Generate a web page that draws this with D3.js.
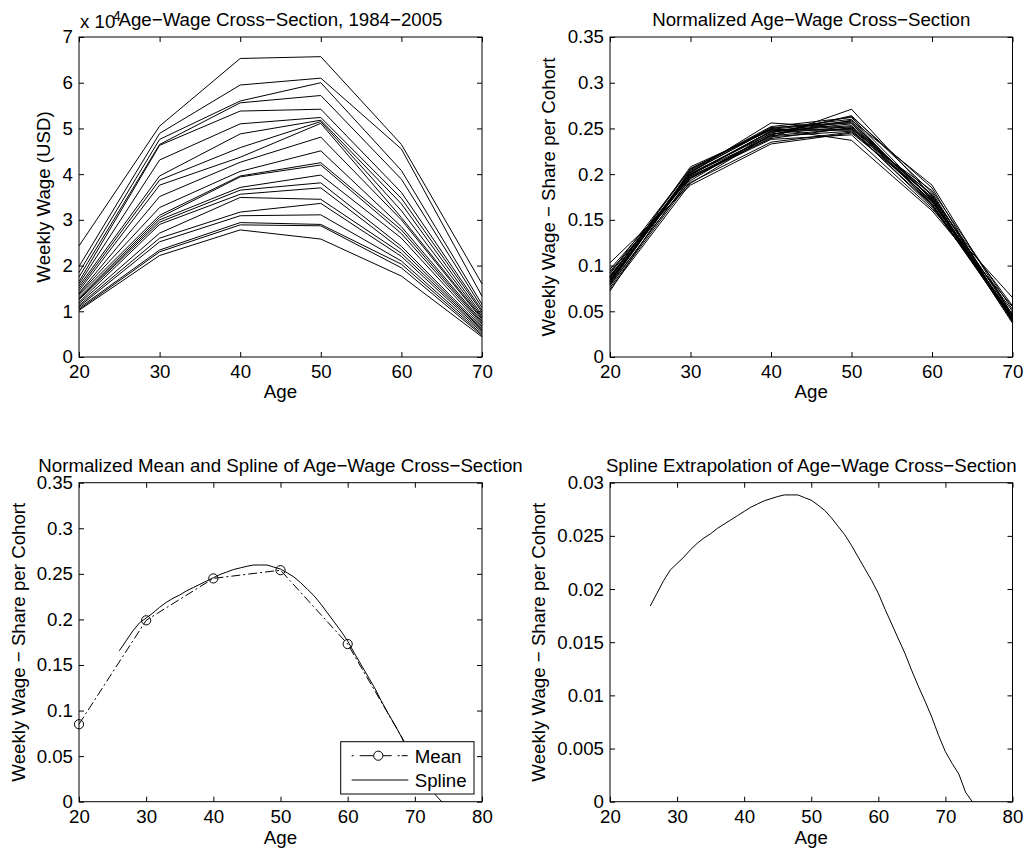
<!DOCTYPE html>
<html>
<head>
<meta charset="utf-8">
<script src="https://cdn.jsdelivr.net/npm/d3@7"></script>
<style>
  body { margin: 0; background: #fff; }
  svg text { font-family: "Liberation Sans", Arial, Helvetica, sans-serif; fill: #000; }
</style>
</head>
<body>
<svg id="fig" width="1029" height="861"></svg>
<script>
// ---- data ---------------------------------------------------------------
const ages = [20, 30, 40, 50, 60, 70];
const years = [1984, 1985, 1986, 1987, 1988, 1989, 1990, 1991, 1992, 1993, 1994,
               1995, 1996, 1997, 1998, 1999, 2000, 2001, 2002, 2003, 2004, 2005];

// weekly wage (USD) per age bracket, one row per year
const weeklyWage = [
  [10200, 22200, 27800, 25800, 17700, 4400],
  [10400, 23000, 28900, 28700, 19500, 4700],
  [10700, 23400, 29400, 29000, 20300, 5000],
  [11000, 25200, 30900, 31100, 21000, 5400],
  [11300, 26000, 31700, 33600, 22000, 5700],
  [11700, 27100, 34900, 34500, 22700, 6000],
  [12000, 29000, 35600, 37000, 23500, 6200],
  [12500, 29500, 36500, 38100, 24200, 6500],
  [12700, 30000, 37100, 39800, 26000, 6800],
  [13000, 30500, 39400, 42000, 27000, 7200],
  [13500, 31000, 39600, 42500, 27800, 7500],
  [13800, 32700, 40600, 45100, 28500, 7800],
  [14000, 35100, 42600, 48100, 30000, 8200],
  [14500, 37600, 43700, 51100, 30500, 8500],
  [15000, 38700, 45800, 51500, 32000, 8800],
  [15500, 39600, 48800, 51800, 33500, 9200],
  [16000, 43100, 51000, 52400, 34700, 9800],
  [16500, 46300, 53800, 54200, 36000, 10200],
  [17500, 46500, 55600, 57200, 38900, 10800],
  [18500, 47600, 56000, 60000, 40800, 11500],
  [19800, 48900, 59500, 61000, 45500, 13300],
  [24300, 50500, 65300, 65700, 46500, 16000]
];

// share of the cohort's total wage per age bracket, one row per year
const wageShare = [
  [0.103, 0.188, 0.233, 0.245, 0.175, 0.056],
  [0.072, 0.205, 0.252, 0.262, 0.172, 0.037],
  [0.080, 0.202, 0.256, 0.250, 0.170, 0.042],
  [0.078, 0.196, 0.240, 0.271, 0.176, 0.039],
  [0.092, 0.206, 0.250, 0.237, 0.160, 0.055],
  [0.085, 0.199, 0.246, 0.255, 0.173, 0.042],
  [0.088, 0.201, 0.244, 0.252, 0.170, 0.045],
  [0.082, 0.203, 0.249, 0.258, 0.168, 0.040],
  [0.087, 0.197, 0.242, 0.250, 0.178, 0.046],
  [0.084, 0.200, 0.247, 0.253, 0.174, 0.042],
  [0.086, 0.208, 0.248, 0.248, 0.166, 0.044],
  [0.079, 0.195, 0.243, 0.264, 0.180, 0.039],
  [0.091, 0.200, 0.241, 0.247, 0.171, 0.050],
  [0.083, 0.204, 0.251, 0.256, 0.166, 0.040],
  [0.076, 0.193, 0.245, 0.263, 0.185, 0.038],
  [0.089, 0.198, 0.239, 0.251, 0.177, 0.046],
  [0.081, 0.202, 0.250, 0.260, 0.167, 0.040],
  [0.094, 0.191, 0.235, 0.246, 0.182, 0.052],
  [0.087, 0.206, 0.249, 0.249, 0.164, 0.045],
  [0.083, 0.199, 0.247, 0.257, 0.172, 0.042],
  [0.074, 0.190, 0.243, 0.259, 0.188, 0.046],
  [0.096, 0.196, 0.238, 0.243, 0.162, 0.065]
];

// mean share across all years
const meanShare = [0.085, 0.199, 0.245, 0.254, 0.173, 0.046];

// yearly ages covered by the spline
const splineAges = [26, 27, 28, 29, 30, 31, 32, 33, 34, 35, 36, 37, 38, 39, 40, 41, 42,
                    43, 44, 45, 46, 47, 48, 49, 50, 51, 52, 53, 54, 55, 56, 57, 58,
                    59, 60, 61, 62, 63, 64, 65, 66, 67, 68, 69, 70, 71, 72, 73, 74];

// spline through the mean share (bracket scale)
const splineShare = [0.1656, 0.1764, 0.1872, 0.1962, 0.2016, 0.2070, 0.2133, 0.2187,
                     0.2232, 0.2268, 0.2313, 0.2349, 0.2385, 0.2421, 0.2457, 0.2493,
                     0.2520, 0.2547, 0.2565, 0.2583, 0.2597, 0.2597, 0.2597, 0.2574,
                     0.2552, 0.2511, 0.2466, 0.2403, 0.2331, 0.2259, 0.2169, 0.2070,
                     0.1971, 0.1872, 0.1764, 0.1629, 0.1503, 0.1377, 0.1251, 0.1107,
                     0.0972, 0.0846, 0.0711, 0.0558, 0.0423, 0.0324, 0.0234, 0.0081, 0.0000];

// spline extrapolated to single years of age
const splineYearly = [0.0184, 0.0196, 0.0208, 0.0218, 0.0224, 0.0230, 0.0237, 0.0243,
                      0.0248, 0.0252, 0.0257, 0.0261, 0.0265, 0.0269, 0.0273, 0.0277,
                      0.0280, 0.0283, 0.0285, 0.0287, 0.02885, 0.02885, 0.02885, 0.0286,
                      0.02835, 0.0279, 0.0274, 0.0267, 0.0259, 0.0251, 0.0241, 0.0230,
                      0.0219, 0.0208, 0.0196, 0.0181, 0.0167, 0.0153, 0.0139, 0.0123,
                      0.0108, 0.0094, 0.0079, 0.0062, 0.0047, 0.0036, 0.0026, 0.0009, 0.0000];

const ageTicks6 = [20, 30, 40, 50, 60, 70];
const ageTicks7 = [20, 30, 40, 50, 60, 70, 80];
const wageTicks = [0, 10000, 20000, 30000, 40000, 50000, 60000, 70000];
const shareTicks = [0, 0.05, 0.1, 0.15, 0.2, 0.25, 0.3, 0.35];
const yearlyTicks = [0, 0.005, 0.01, 0.015, 0.02, 0.025, 0.03];

// ---- drawing ------------------------------------------------------------
const svg = d3.select('#fig');
svg.append('rect').attr('width', 1029).attr('height', 861).attr('fill', '#fff');

const FONT = 18.7;
const trim = d => String(+d.toFixed(4));

function makeAxes(o) {
  const g = svg.append('g').attr('transform', `translate(${o.left},${o.top})`);
  const x = d3.scaleLinear().domain(o.xDomain).range([0, o.width]);
  const y = d3.scaleLinear().domain(o.yDomain).range([o.height, 0]);
  const tick = 5;

  g.append('g').attr('transform', `translate(0,${o.height})`)
    .call(d3.axisBottom(x).tickValues(o.xTicks).tickSizeInner(-tick).tickSizeOuter(0)
      .tickPadding(8).tickFormat(d3.format('d')));
  g.append('g')
    .call(d3.axisTop(x).tickValues(o.xTicks).tickSizeInner(-tick).tickSizeOuter(0).tickFormat(''));
  g.append('g')
    .call(d3.axisLeft(y).tickValues(o.yTicks).tickSizeInner(-tick).tickSizeOuter(0)
      .tickPadding(6).tickFormat(o.yFormat));
  g.append('g').attr('transform', `translate(${o.width},0)`)
    .call(d3.axisRight(y).tickValues(o.yTicks).tickSizeInner(-tick).tickSizeOuter(0).tickFormat(''));

  g.selectAll('.domain').remove();
  g.selectAll('.tick line').attr('stroke', '#000').attr('stroke-width', 1);
  g.selectAll('.tick text')
    .attr('font-size', FONT)
    .attr('font-family', '"Liberation Sans", Arial, sans-serif')
    .attr('fill', '#000');

  const plot = g.append('g');

  g.append('rect').attr('width', o.width).attr('height', o.height)
    .attr('fill', 'none').attr('stroke', '#000').attr('stroke-width', 1);

  g.append('text').attr('x', o.width / 2).attr('y', -o.titleGap)
    .attr('text-anchor', 'middle').attr('font-size', FONT).text(o.title);
  g.append('text').attr('x', o.width / 2).attr('y', o.height + o.xLabelGap)
    .attr('text-anchor', 'middle').attr('font-size', FONT).text('Age');
  g.append('text')
    .attr('transform', `translate(${-o.yLabelGap},${o.height / 2}) rotate(-90)`)
    .attr('text-anchor', 'middle').attr('font-size', FONT).text(o.yLabel);

  return { g, plot, x, y };
}

const lineStyle = sel => sel.attr('fill', 'none').attr('stroke', '#000').attr('stroke-width', 1);

// panel 1: raw wages
const p1 = makeAxes({
  left: 79, top: 37, width: 403, height: 320,
  xDomain: [20, 70], yDomain: [0, 70000], xTicks: ageTicks6, yTicks: wageTicks,
  yFormat: d => String(d / 10000),
  title: 'Age\u2212Wage Cross\u2212Section, 1984\u22122005',
  yLabel: 'Weekly Wage (USD)', titleGap: 11, xLabelGap: 41, yLabelGap: 29
});
const line1 = d3.line().x((d, i) => p1.x(ages[i])).y(d => p1.y(d));
p1.plot.selectAll('path.cohort').data(weeklyWage).join('path')
  .attr('class', 'cohort').attr('d', line1).call(lineStyle);
// exponent note of the wage axis
p1.g.append('text').attr('x', 1).attr('y', -9).attr('font-size', FONT).text('x 10');
svg.append('text').attr('x', 113).attr('y', 21).attr('font-size', 14).text('4');

// panel 2: normalized shares
const p2 = makeAxes({
  left: 610, top: 37, width: 402.5, height: 320,
  xDomain: [20, 70], yDomain: [0, 0.35], xTicks: ageTicks6, yTicks: shareTicks,
  yFormat: trim,
  title: 'Normalized Age\u2212Wage Cross\u2212Section',
  yLabel: 'Weekly Wage \u2212 Share per Cohort', titleGap: 11, xLabelGap: 41, yLabelGap: 55
});
const line2 = d3.line().x((d, i) => p2.x(ages[i])).y(d => p2.y(d));
p2.plot.selectAll('path.cohort').data(wageShare).join('path')
  .attr('class', 'cohort').attr('d', line2).call(lineStyle);

// panel 3: mean and spline
const p3 = makeAxes({
  left: 79, top: 482.7, width: 403, height: 319,
  xDomain: [20, 80], yDomain: [0, 0.35], xTicks: ageTicks7, yTicks: shareTicks,
  yFormat: trim,
  title: 'Normalized Mean and Spline of Age\u2212Wage Cross\u2212Section',
  yLabel: 'Weekly Wage \u2212 Share per Cohort', titleGap: 11, xLabelGap: 42, yLabelGap: 54
});
const line3 = d3.line().x((d, i) => p3.x(ages[i])).y(d => p3.y(d));
p3.plot.append('path').datum(meanShare).attr('d', line3).call(lineStyle)
  .attr('stroke-dasharray', '9,3,2,3');
p3.plot.selectAll('circle.mean').data(meanShare).join('circle')
  .attr('class', 'mean')
  .attr('cx', (d, i) => p3.x(ages[i])).attr('cy', d => p3.y(d)).attr('r', 4.6)
  .attr('fill', 'none').attr('stroke', '#000').attr('stroke-width', 1);
const line3s = d3.line().x((d, i) => p3.x(splineAges[i])).y(d => p3.y(d));
p3.plot.append('path').datum(splineShare).attr('d', line3s).call(lineStyle);

// legend
const lg = svg.append('g').attr('transform', 'translate(340.7,741.7)');
lg.append('rect').attr('width', 133.3).attr('height', 52.3)
  .attr('fill', '#fff').attr('stroke', '#000').attr('stroke-width', 1);
lg.append('line').attr('x1', 11).attr('x2', 67.6).attr('y1', 14).attr('y2', 14)
  .attr('stroke', '#000').attr('stroke-dasharray', '2,6,14,4,14,6,2');
lg.append('circle').attr('cx', 37.6).attr('cy', 14).attr('r', 4.6)
  .attr('fill', '#fff').attr('stroke', '#000');
lg.append('text').attr('x', 74).attr('y', 21.3).attr('font-size', FONT).text('Mean');
lg.append('line').attr('x1', 11).attr('x2', 67.6).attr('y1', 38.3).attr('y2', 38.3)
  .attr('stroke', '#000');
lg.append('text').attr('x', 74).attr('y', 45.6).attr('font-size', FONT).text('Spline');

// panel 4: yearly extrapolation
const p4 = makeAxes({
  left: 610, top: 482.7, width: 402.5, height: 319,
  xDomain: [20, 80], yDomain: [0, 0.03], xTicks: ageTicks7, yTicks: yearlyTicks,
  yFormat: trim,
  title: 'Spline Extrapolation of Age\u2212Wage Cross\u2212Section',
  yLabel: 'Weekly Wage \u2212 Share per Cohort', titleGap: 11, xLabelGap: 42, yLabelGap: 65
});
const line4 = d3.line().x((d, i) => p4.x(splineAges[i])).y(d => p4.y(d));
p4.plot.append('path').datum(splineYearly).attr('d', line4).call(lineStyle);
</script>
</body>
</html>
